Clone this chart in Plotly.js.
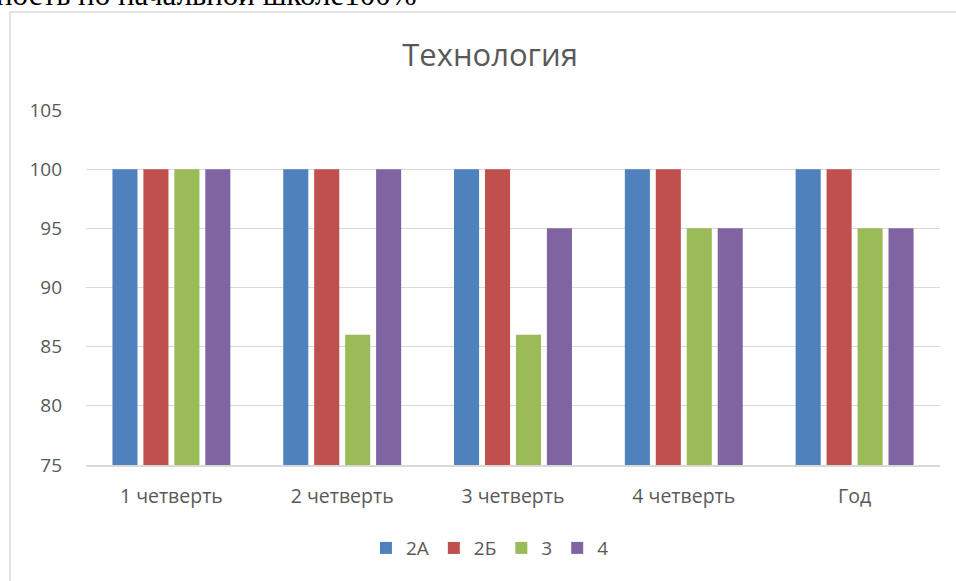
<!DOCTYPE html>
<html>
<head>
<meta charset="utf-8">
<script src="https://cdn.plot.ly/plotly-3.0.1.min.js"></script>
<style>
  body { margin: 0; background: #fff; }
  #chart { width: 956px; height: 581px; }
</style>
</head>
<body>
<div id="chart"></div>
<script>
// Четверти и результаты по классам
let periods = ['1 четверть', '2 четверть', '3 четверть', '4 четверть', 'Год'];
let class2A = [100, 100, 100, 100, 100];
let class2B = [100, 100, 100, 100, 100];
let class3 = [100, 86, 86, 95, 95];
let class4 = [100, 100, 95, 95, 95];

let yTicks = [75, 80, 85, 90, 95, 100, 105];

let fontName = 'Open Sans, Liberation Sans, sans-serif';
let textColor = '#595959';

function makeBar(values, label, color) {
    return {
        type: 'bar',
        x: periods,
        y: values,
        name: label,
        marker: { color: color },
        hoverinfo: 'y+name'
    };
}

let data = [
    makeBar(class2A, '2А', '#4F81BD'),
    makeBar(class2B, '2Б', '#C0504D'),
    makeBar(class3, '3', '#9BBB59'),
    makeBar(class4, '4', '#8064A2')
];

let layout = {
    width: 956,
    height: 581,
    margin: { l: 86, r: 16, t: 110, b: 116 },
    paper_bgcolor: '#ffffff',
    plot_bgcolor: '#ffffff',
    font: { family: fontName, size: 19, color: textColor },
    title: {
        text: 'Технология',
        font: { family: fontName, size: 31, color: textColor },
        xref: 'container',
        x: 0.5126,
        xanchor: 'center',
        yref: 'container',
        y: 0.905,
        yanchor: 'middle'
    },
    barmode: 'group',
    bargap: 0.275,
    bargroupgap: 0.19,
    xaxis: {
        showgrid: false,
        showline: true,
        linecolor: '#d9d9d9',
        linewidth: 1.5,
        ticks: '',
        ticklabelstandoff: 13,
        tickfont: { size: 19.5, color: textColor }
    },
    yaxis: {
        range: [75, 105],
        tickvals: yTicks,
        showgrid: true,
        gridcolor: '#d9d9d9',
        gridwidth: 1,
        zeroline: false,
        showline: false,
        ticks: '',
        ticklabelstandoff: 23,
        tickfont: { size: 19, color: textColor }
    },
    showlegend: true,
    legend: {
        orientation: 'h',
        x: 0.473,
        xanchor: 'center',
        y: -0.234,
        yanchor: 'middle',
        font: { size: 19, color: textColor },
        itemwidth: 30,
        traceorder: 'normal'
    },
    shapes: [
        {
            type: 'rect',
            xref: 'paper',
            yref: 'paper',
            x0: -76 / 854,
            x1: 1.2,
            y0: -0.5,
            y1: 1 + 98 / 355,
            line: { color: '#d9d9d9', width: 1.5 },
            fillcolor: 'rgba(0,0,0,0)',
            layer: 'below'
        }
    ],
    annotations: [
        {
            text: 'ность по начальной школе100%',
            xref: 'paper',
            yref: 'paper',
            x: -92 / 854,
            xanchor: 'left',
            y: 1 + 116 / 355,
            yanchor: 'middle',
            showarrow: false,
            font: { family: 'Liberation Serif, serif', size: 31, color: '#000000' }
        }
    ]
};

Plotly.newPlot('chart', data, layout, { displayModeBar: false });
</script>
</body>
</html>
